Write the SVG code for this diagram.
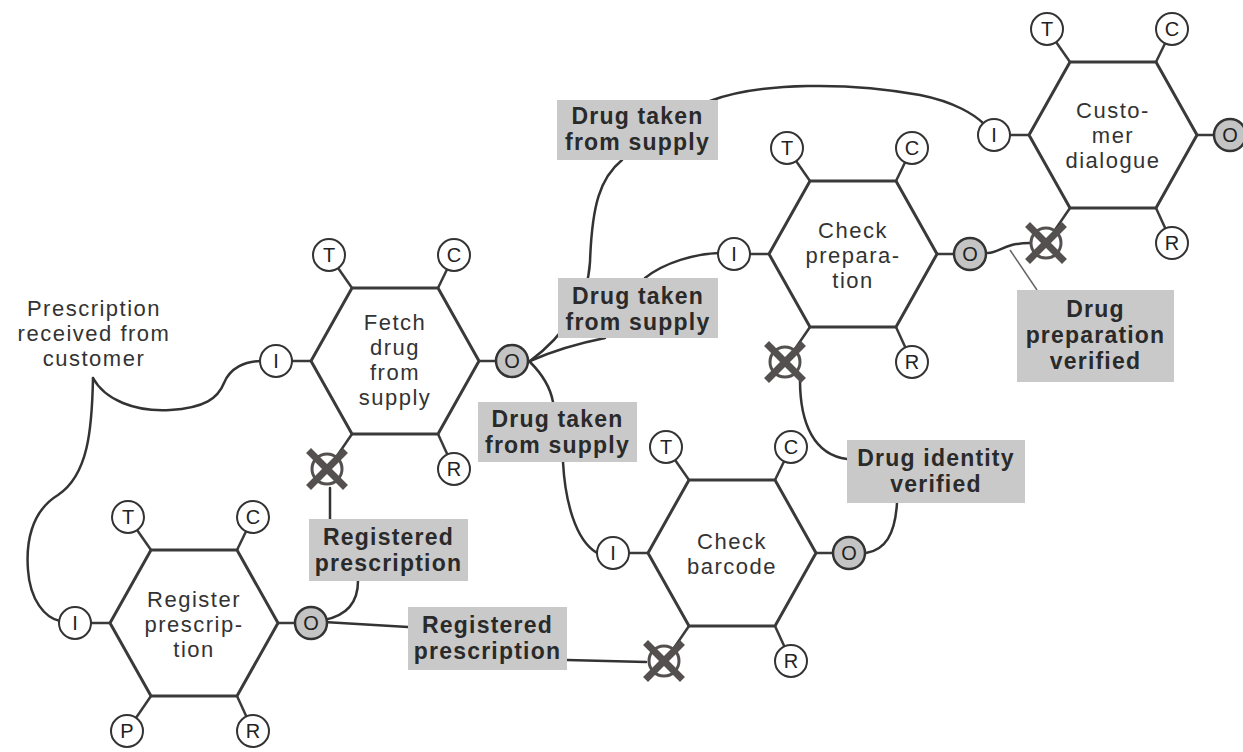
<svg xmlns="http://www.w3.org/2000/svg" xmlns:xlink="http://www.w3.org/1999/xlink" width="1243" height="752" viewBox="0 0 1243 752">
  <style>
    .hex { fill: #ffffff; stroke: #3a3a3a; stroke-width: 3; stroke-linejoin: miter; }
    .spoke { stroke: #3a3a3a; stroke-width: 2.5; fill: none; }
    .port { fill: #ffffff; stroke: #333333; stroke-width: 2; }
    .out { fill: #c4c4c4; stroke: #333333; stroke-width: 2.5; }
    .port-t { font-family: "Liberation Sans", Arial, sans-serif; font-size: 20px; fill: #222222; text-anchor: middle; }
    .name { font-family: "Liberation Sans", Arial, sans-serif; font-size: 22px; letter-spacing: 1.5px; fill: #333333; text-anchor: middle; }
    .box { fill: #c9c9c9; stroke: none; }
    .lbl { font-family: "Liberation Sans", Arial, sans-serif; font-size: 23px; letter-spacing: 1.2px; font-weight: bold; fill: #2a2a2a; text-anchor: middle; }
    .note { font-family: "Liberation Sans", Arial, sans-serif; font-size: 22px; letter-spacing: 1.5px; fill: #333333; text-anchor: middle; }
    .wire { fill: none; stroke: #333333; stroke-width: 2.5; stroke-linecap: round; }
    .pointer { fill: none; stroke: #666666; stroke-width: 1.5; }
    .cross { stroke: #555050; stroke-width: 7; stroke-linecap: square; }
  </style>
  <defs>
    <!-- hexagon body with its six spokes, centred on 0,0 -->
    <g id="hexbase">
      <line class="spoke" x1="-43" y1="-73" x2="-66" y2="-106"/>
      <line class="spoke" x1="43" y1="-73" x2="59" y2="-106"/>
      <line class="spoke" x1="-84" y1="0" x2="-119" y2="0"/>
      <line class="spoke" x1="84" y1="0" x2="117" y2="0"/>
      <line class="spoke" x1="43" y1="73" x2="59" y2="108"/>
      <line class="spoke" x1="-43" y1="73" x2="-67" y2="108"/>
      <polygon class="hex" points="-43,-73 43,-73 84,0 43,73 -43,73 -84,0"/>
      <circle class="port" cx="-66" cy="-106" r="16"/>
      <text class="port-t" x="-66" y="-99">T</text>
      <circle class="port" cx="59" cy="-106" r="16"/>
      <text class="port-t" x="59" y="-99">C</text>
      <circle class="port" cx="-119" cy="0" r="16"/>
      <text class="port-t" x="-119" y="7">I</text>
      <circle class="out" cx="117" cy="0" r="16"/>
      <text class="port-t" x="117" y="7">O</text>
      <circle class="port" cx="59" cy="108" r="16"/>
      <text class="port-t" x="59" y="115">R</text>
    </g>
    <!-- crossed-out port -->
    <g id="xport">
      <circle cx="0" cy="0" r="15" fill="#ffffff" stroke="#555050" stroke-width="3"/>
      <line class="cross" x1="-16" y1="-16" x2="16" y2="16"/>
      <line class="cross" x1="16" y1="-16" x2="-16" y2="16"/>
    </g>
  </defs>

  <rect x="0" y="0" width="1243" height="752" fill="#ffffff"/>

  <g id="connectors">
    <path class="wire" d="M 93 378 C 92 430 88 475 58 495 C 30 512 26 545 28 570 C 30 600 45 618 60 621"/>
    <path class="wire" d="M 93 378 C 105 400 135 412 170 410 C 205 408 218 398 224 383 C 230 368 245 361 261 361"/>
    <path class="wire" d="M 530 361 C 565 335 588 300 590 262 C 592 205 600 178 622 160"/>
    <path class="wire" d="M 530 361 C 555 350 580 343 605 338"/>
    <path class="wire" d="M 645 278 C 665 262 695 254 719 253"/>
    <path class="wire" d="M 530 362 C 540 372 550 385 553 402"/>
    <path class="wire" d="M 563 462 C 565 500 575 540 597 553"/>
    <path class="wire" d="M 710 101 C 760 82 850 82 920 95 C 955 102 975 115 984 124"/>
    <path class="wire" d="M 330 488 L 330 519"/>
    <path class="wire" d="M 324 620 C 350 615 358 600 358 581"/>
    <path class="wire" d="M 324 622 L 408 627"/>
    <path class="wire" d="M 567 660 L 646 662"/>
    <path class="wire" d="M 866 553 C 885 550 895 535 897 503"/>
    <path class="wire" d="M 800 380 C 800 425 815 455 847 459"/>
    <path class="wire" d="M 988 253 C 1000 252 1005 243 1030 243"/>
    <path class="pointer" d="M 1010 250 L 1037 290"/>
  </g>

  <g id="labels">
    <text class="note" x="94" y="316">Prescription</text>
    <text class="note" x="94" y="341">received from</text>
    <text class="note" x="94" y="366">customer</text>

    <rect class="box" x="557" y="100" width="161" height="60"/>
    <text class="lbl" x="637.5" y="124">Drug taken</text>
    <text class="lbl" x="637.5" y="150">from supply</text>

    <rect class="box" x="558" y="278" width="160" height="60"/>
    <text class="lbl" x="638" y="304">Drug taken</text>
    <text class="lbl" x="638" y="330">from supply</text>

    <rect class="box" x="478" y="402" width="159" height="60"/>
    <text class="lbl" x="557.5" y="427">Drug taken</text>
    <text class="lbl" x="557.5" y="453">from supply</text>

    <rect class="box" x="309" y="519" width="159" height="62"/>
    <text class="lbl" x="388.5" y="545">Registered</text>
    <text class="lbl" x="388.5" y="571">prescription</text>

    <rect class="box" x="408" y="607" width="159" height="63"/>
    <text class="lbl" x="487.5" y="633">Registered</text>
    <text class="lbl" x="487.5" y="659">prescription</text>

    <rect class="box" x="847" y="440" width="178" height="63"/>
    <text class="lbl" x="936" y="466">Drug identity</text>
    <text class="lbl" x="936" y="492">verified</text>

    <rect class="box" x="1017" y="290" width="157" height="92"/>
    <text class="lbl" x="1095.5" y="317">Drug</text>
    <text class="lbl" x="1095.5" y="343">preparation</text>
    <text class="lbl" x="1095.5" y="369">verified</text>
  </g>

  <g id="node-register" transform="translate(194,623)">
    <use xlink:href="#hexbase"/>
    <circle class="port" cx="-67" cy="108" r="16"/>
    <text class="port-t" x="-67" y="115">P</text>
    <text class="name" x="0" y="-16">Register</text>
    <text class="name" x="0" y="9">prescrip-</text>
    <text class="name" x="0" y="34">tion</text>
  </g>

  <g id="node-fetch" transform="translate(395,361)">
    <use xlink:href="#hexbase"/>
    <use xlink:href="#xport" x="-68" y="108"/>
    <text class="name" x="0" y="-31">Fetch</text>
    <text class="name" x="0" y="-6">drug</text>
    <text class="name" x="0" y="19">from</text>
    <text class="name" x="0" y="44">supply</text>
  </g>

  <g id="node-barcode" transform="translate(732,553)">
    <use xlink:href="#hexbase"/>
    <use xlink:href="#xport" x="-68" y="108"/>
    <text class="name" x="0" y="-4">Check</text>
    <text class="name" x="0" y="21">barcode</text>
  </g>

  <g id="node-preparation" transform="translate(853,254)">
    <use xlink:href="#hexbase"/>
    <use xlink:href="#xport" x="-68" y="108"/>
    <text class="name" x="0" y="-16">Check</text>
    <text class="name" x="0" y="9">prepara-</text>
    <text class="name" x="0" y="34">tion</text>
  </g>

  <g id="node-customer" transform="translate(1113,135)">
    <use xlink:href="#hexbase"/>
    <use xlink:href="#xport" x="-67" y="108"/>
    <text class="name" x="0" y="-17">Custo-</text>
    <text class="name" x="0" y="8">mer</text>
    <text class="name" x="0" y="33">dialogue</text>
  </g>
</svg>
